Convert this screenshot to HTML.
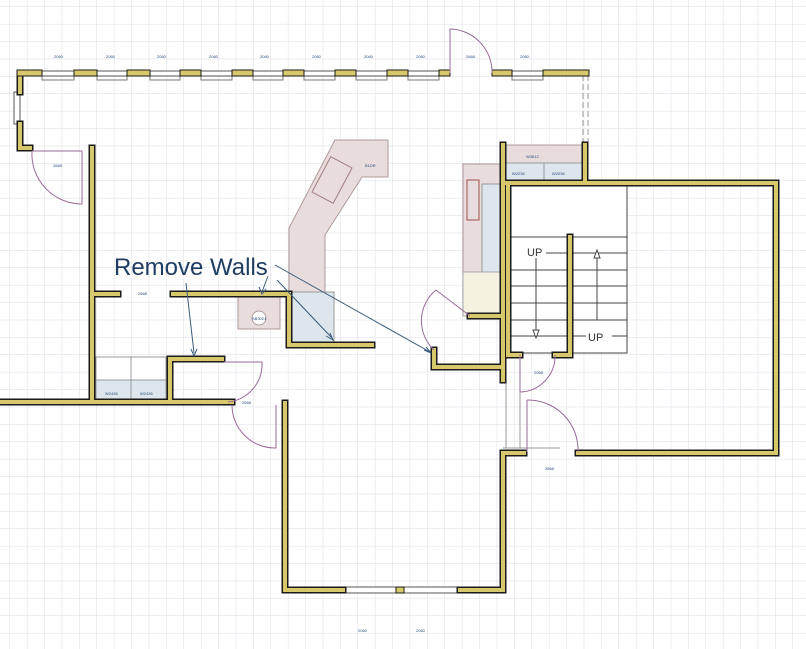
<!DOCTYPE html>
<html><head><meta charset="utf-8"><style>
html,body{margin:0;padding:0;background:#fff;}
svg{display:block;}
.l{font-family:"Liberation Sans",sans-serif;font-size:4px;fill:#2a4a7a;}
</style></head><body>
<svg width="806" height="649" viewBox="0 0 806 649" xmlns="http://www.w3.org/2000/svg">
<defs>
<pattern id="g" x="10" y="7" width="17.4" height="17.4" patternUnits="userSpaceOnUse">
<path d="M17.4 0V17.4M0 17.4H17.4" fill="none" stroke="#dcdde6" stroke-width="1"/>
</pattern>
</defs>
<rect width="806" height="649" fill="#fff"/>
<rect width="806" height="649" fill="url(#g)"/>

<!-- cabinets / kitchen -->
<g stroke="#b09a9a" stroke-width="1">
<polygon points="335,140 388,140 388,177 362,177 325,235 325,292 289,292 289,228" fill="#e9dcdc"/>
<rect x="289" y="292" width="45" height="50" fill="#dde6ec" stroke="#999"/>
<rect x="238" y="297" width="42" height="32" fill="#e9dcdc"/>
<circle cx="259" cy="318" r="7" fill="#fff"/>
<rect x="463" y="164" width="38" height="108" fill="#e9dcdc"/>
<rect x="482" y="184" width="19" height="88" fill="#dde6ec" stroke="#999"/>
<rect x="463" y="272" width="38" height="44" fill="#f6f2e2" stroke="#aaa"/>
<rect x="506" y="145" width="78" height="36" fill="#e9dcdc"/>
<rect x="506" y="163" width="78" height="18" fill="#dde6ec" stroke="#999"/>
<rect x="96" y="357" width="70" height="43" fill="#fff" stroke="#999"/>
<rect x="96" y="380" width="70" height="20" fill="#dde6ec" stroke="#999"/>
<line x1="131" y1="357" x2="131" y2="400" stroke="#999"/>
<line x1="544" y1="163" x2="544" y2="181" stroke="#999"/>
</g>
<rect x="467" y="180" width="12" height="40" fill="none" stroke="#a05050" stroke-width="1"/>
<rect x="320" y="160" width="24" height="40" fill="none" stroke="#a08080" stroke-width="1" transform="rotate(28 332 180)"/>

<!-- stairs -->
<g stroke="#444" stroke-width="1" fill="none">
<rect x="505" y="186" width="122" height="51" fill="#fff"/>
<rect x="508" y="237" width="119" height="116" fill="#fff"/>
<path d="M508 253H627M508 270H627M508 286H627M508 303H627M508 320H627M508 336H627"/>
<line x1="536" y1="258" x2="536" y2="330"/>
<line x1="597" y1="250" x2="597" y2="320"/>
<path d="M533 330L536 338L539 330Z M594 258L597 250L600 258Z" fill="#fff"/>
</g>
<rect x="508" y="246" width="38" height="12" fill="#fff"/>
<text x="527" y="256" font-family="Liberation Sans,sans-serif" font-size="11" fill="#333">UP</text>
<rect x="586" y="331" width="26" height="12" fill="#fff"/>
<text x="588" y="341" font-family="Liberation Sans,sans-serif" font-size="11" fill="#333">UP</text>

<!-- windows / thin lines -->
<g stroke="#555" stroke-width="1" fill="#fff">
<rect x="20" y="71" width="430" height="5"/>
<rect x="492" y="71" width="96" height="5"/>
<rect x="14" y="92" width="6" height="32"/>
<rect x="343" y="587" width="117" height="6"/>
</g>
<g stroke="#777" stroke-width="1" fill="none">
<path d="M42 76V80H74V76 M97 76V80H127V76 M150 76V80H180V76 M201 76V80H232V76 M253 76V80H283V76 M304 76V80H335V76 M356 76V80H387V76 M408 76V80H439V76 M512 76V80H543V76"/>
</g>
<g stroke="#999" stroke-width="1" fill="none">
<path d="M583 75V145M588 75V145" stroke-dasharray="6,3"/>
<path d="M506 380V448M520 355V448M503 448H560"/>
</g>

<!-- walls -->
<g fill="none" stroke-linejoin="miter" stroke-linecap="square">
<g stroke="#1a1a1a" stroke-width="7">
<path d="M20 73V92 M20 124V148H30 M92 148V402 M0 402H232 M92 294H118 M173 294H289V345H372 M170 402V359H222 M285 403V590H343 M460 590H503V453H524 M578 453H776V183H503V380 M503 145V183 M585 145V183 M470 316H503 M434 350V367H503 M508 186V355H520 M555 355H570V237"/>
</g>
<g stroke="#d8c86c" stroke-width="4">
<path d="M20 73V92 M20 124V148H30 M92 148V402 M0 402H232 M92 294H118 M173 294H289V345H372 M170 402V359H222 M285 403V590H343 M460 590H503V453H524 M578 453H776V183H503V380 M503 145V183 M585 145V183 M470 316H503 M434 350V367H503 M508 186V355H520 M555 355H570V237"/>
</g>
</g>
<!-- window blocks on top wall -->
<g fill="#d8c86c" stroke="#1a1a1a" stroke-width="1">
<rect x="17" y="70" width="25" height="6"/>
<rect x="74" y="70" width="23" height="6"/><rect x="127" y="70" width="23" height="6"/>
<rect x="180" y="70" width="21" height="6"/><rect x="232" y="70" width="21" height="6"/>
<rect x="283" y="70" width="21" height="6"/><rect x="335" y="70" width="21" height="6"/>
<rect x="387" y="70" width="21" height="6"/><rect x="439" y="70" width="11" height="6"/>
<rect x="492" y="70" width="20" height="6"/><rect x="543" y="70" width="46" height="6"/>
<rect x="396" y="587" width="8" height="6"/>
</g>

<!-- doors -->
<g stroke="#9a6a9a" stroke-width="1" fill="none">
<path d="M450 73V29 A43 43 0 0 1 492 73"/>
<path d="M32 151H82V204 A50 50 0 0 1 32 151"/>
<path d="M224 362H262 A38 38 0 0 1 228 402"/>
<path d="M232 405A43 43 0 0 0 276 448V405"/>
<path d="M434 350A40 40 0 0 1 436 290L470 316"/>
<path d="M520 355V392 A36 36 0 0 0 555 355"/>
<path d="M527 400V452 M527 400A50 50 0 0 1 578 452"/>
</g>

<!-- remove walls annotation -->
<g stroke="#3a5a7a" stroke-width="1" fill="none">
<path d="M186 283L194 353"/><path d="M191 349L194 356L197 349"/>
<path d="M268 276L262 292"/><path d="M259 287L262 294L266 289"/>
<path d="M275 265L430 352"/><path d="M424 350L431 353L426 347"/>
<path d="M277 280L332 338"/><path d="M326 336L333 340L330 333"/>
</g>
<text x="114" y="275" font-family="Liberation Sans,sans-serif" font-size="24" fill="#1f3d63">Remove Walls</text>

<!-- small labels -->
<g class="l">
<text x="54" y="58">2060</text><text x="106" y="58">2060</text><text x="157" y="58">2060</text><text x="209" y="58">2060</text>
<text x="260" y="58">2060</text><text x="312" y="58">2060</text><text x="364" y="58">2060</text><text x="416" y="58">2060</text>
<text x="466" y="58">2668</text><text x="520" y="58">2060</text>
<text x="53" y="167">2668</text><text x="138" y="295">2668</text><text x="242" y="404">2668</text>
<text x="365" y="167">B1DR</text><text x="526" y="158">W3612</text><text x="512" y="175">W2236</text><text x="552" y="175">W2036</text>
<text x="105" y="395">W2436</text><text x="140" y="395">W2436</text><text x="252" y="320">SB3021</text>
<text x="534" y="374">2068</text><text x="545" y="470">2668</text><text x="358" y="632">2060</text><text x="416" y="632">2060</text>
</g>
</svg>
</body></html>
